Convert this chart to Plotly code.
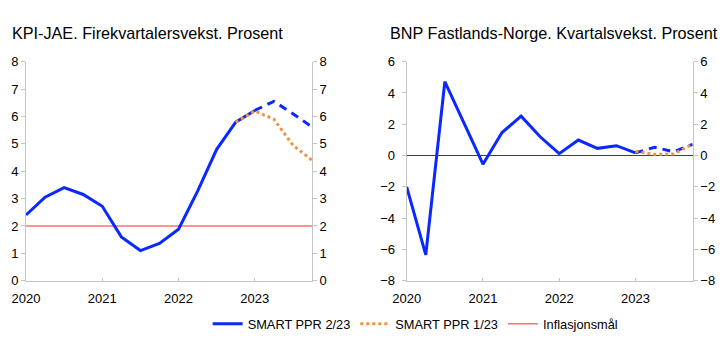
import plotly.graph_objects as go
from plotly.subplots import make_subplots

# ---- data ----
quarters = ["2020Q1", "2020Q2", "2020Q3", "2020Q4",
            "2021Q1", "2021Q2", "2021Q3", "2021Q4",
            "2022Q1", "2022Q2", "2022Q3", "2022Q4",
            "2023Q1", "2023Q2", "2023Q3", "2023Q4"]
year_ticks = ["2020Q1", "2021Q1", "2022Q1", "2023Q1"]
year_labels = ["2020", "2021", "2022", "2023"]

# KPI-JAE, four-quarter growth
kpi_hist = [2.4, 3.05, 3.4, 3.15, 2.72, 1.6, 1.1, 1.36, 1.88, 3.27, 4.8, 5.79, 6.22]
kpi_ppr2_proj = [6.22, 6.55, 6.1, 5.62]          # 2023Q1-2023Q4
kpi_ppr1 = [5.79, 6.2, 5.9, 4.95, 4.4]           # 2022Q4-2023Q4
infl_target = [2, 2, 2, 2, 2, 2, 2, 2, 2, 2, 2, 2, 2, 2, 2, 2]

# BNP Fastlands-Norge, quarterly growth
bnp_hist = [-2.0, -6.35, 4.72, 2.05, -0.55, 1.47, 2.52, 1.2, 0.12, 0.99, 0.46, 0.63, 0.17]
bnp_ppr2_proj = [0.17, 0.53, 0.24, 0.72]         # 2023Q1-2023Q4
bnp_ppr1 = [0.27, 0.08, 0.1, 0.74]               # 2023Q1-2023Q4

BLUE = "#0a28ff"
ORANGE = "#f5923e"
RED = "#ff7070"
GRAY = "#c4c4c4"
FONT = "Liberation Sans, Arial, sans-serif"

fig = make_subplots(rows=1, cols=2,
                    specs=[[{"secondary_y": True}, {"secondary_y": True}]])

# left panel
fig.add_trace(go.Scatter(x=quarters, y=infl_target, mode="lines",
                         line=dict(color=RED, width=1.5), name="Inflasjonsmål",
                         legendrank=3), row=1, col=1)
fig.add_trace(go.Scatter(x=quarters[:13], y=kpi_hist, mode="lines",
                         line=dict(color=BLUE, width=3), name="SMART PPR 2/23",
                         legendrank=1), row=1, col=1)
fig.add_trace(go.Scatter(x=quarters[12:], y=kpi_ppr2_proj, mode="lines",
                         line=dict(color=BLUE, width=3, dash="8px,6px"),
                         showlegend=False), row=1, col=1)
fig.add_trace(go.Scatter(x=quarters[11:], y=kpi_ppr1, mode="lines",
                         line=dict(color=ORANGE, width=3, dash="3px,3px"),
                         name="SMART PPR 1/23", legendrank=2), row=1, col=1)
# invisible carrier so the right-hand axis is drawn
fig.add_trace(go.Scatter(x=quarters[:13], y=kpi_hist, mode="lines",
                         line=dict(width=0), opacity=0, showlegend=False,
                         hoverinfo="skip"), row=1, col=1, secondary_y=True)

# right panel
fig.add_trace(go.Scatter(x=quarters[:13], y=bnp_hist, mode="lines",
                         line=dict(color=BLUE, width=3), showlegend=False),
              row=1, col=2)
fig.add_trace(go.Scatter(x=quarters[12:], y=bnp_ppr2_proj, mode="lines",
                         line=dict(color=BLUE, width=3, dash="8px,6px"),
                         showlegend=False), row=1, col=2)
fig.add_trace(go.Scatter(x=quarters[12:], y=bnp_ppr1, mode="lines",
                         line=dict(color=ORANGE, width=3, dash="3px,3px"),
                         showlegend=False), row=1, col=2)
fig.add_trace(go.Scatter(x=quarters[:13], y=bnp_hist, mode="lines",
                         line=dict(width=0), opacity=0, showlegend=False,
                         hoverinfo="skip"), row=1, col=2, secondary_y=True)

W, H = 722, 339
ydom = [1 - 280.7 / H, 1 - 61.7 / H]
xdom1 = [26 / W, 312 / W]
xdom2 = [406.7 / W, 692.7 / W]

xcommon = dict(type="category", categoryorder="array", categoryarray=quarters,
               range=[0, 15], tickmode="array", tickvals=year_ticks,
               ticktext=year_labels, showgrid=False, showline=True,
               linecolor=GRAY, linewidth=1, ticks="inside", ticklen=3,
               tickcolor=GRAY, tickfont=dict(size=13, color="#000"),
               automargin=False, ticklabelstandoff=6)
ycommon = dict(showgrid=False, showline=True, linecolor=GRAY, linewidth=1,
               ticks="outside", ticklen=4, tickcolor=GRAY,
               tickfont=dict(size=13, color="#000"), zeroline=False,
               automargin=False)

fig.update_layout(
    template="none",
    width=W, height=H,
    margin=dict(l=0, r=0, t=0, b=0),
    paper_bgcolor="white", plot_bgcolor="white",
    font=dict(family=FONT, color="#000"),
    hovermode=False,
    xaxis=dict(xcommon, domain=xdom1, anchor="y"),
    xaxis2=dict(xcommon, domain=xdom2, anchor="y3"),
    yaxis=dict(ycommon, domain=ydom, range=[0, 8], dtick=1, anchor="x"),
    yaxis2=dict(ycommon, domain=ydom, range=[0, 8], dtick=1, anchor="x",
                overlaying="y", side="right"),
    yaxis3=dict(ycommon, domain=ydom, range=[-8, 6], dtick=2, anchor="x2",
                zeroline=True, zerolinecolor="#404040", zerolinewidth=1,
                ticklabelstandoff=4),
    yaxis4=dict(ycommon, domain=ydom, range=[-8, 6], dtick=2, anchor="x2",
                overlaying="y3", side="right"),
    legend=dict(orientation="h", x=0.575, xanchor="center", y=1 - 324 / H,
                yanchor="middle", font=dict(size=12.8, color="#000"),
                bgcolor="rgba(0,0,0,0)", traceorder="normal"),
    annotations=[
        dict(text="KPI-JAE. Firekvartalersvekst. Prosent", x=10 / W, y=1 - 33 / H,
             xref="paper", yref="paper", xanchor="left", yanchor="middle",
             showarrow=False, font=dict(size=16.2, color="#000")),
        dict(text="BNP Fastlands-Norge. Kvartalsvekst. Prosent", x=388 / W,
             y=1 - 33 / H, xref="paper", yref="paper", xanchor="left",
             yanchor="middle", showarrow=False, font=dict(size=16.2, color="#000")),
    ],
)

fig.write_html("out.html")
